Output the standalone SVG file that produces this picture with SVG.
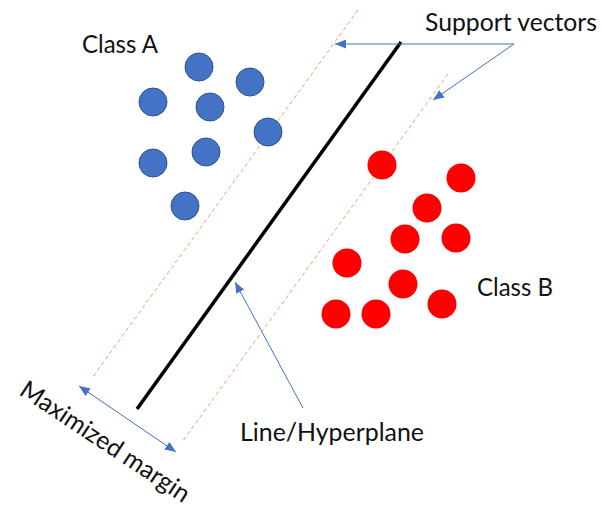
<svg xmlns="http://www.w3.org/2000/svg" width="603" height="508" viewBox="0 0 603 508">
  <style>
    .label { font-family: Lato, "Open Sans", "Liberation Sans", sans-serif; font-size: 25px; fill: #111; }
    .classA { fill: #4472C4; stroke: #2F528F; stroke-width: 1; }
    .classB { fill: #FF0000; }
    .margin { stroke: #F0A070; stroke-width: 1; stroke-dasharray: 4 3; fill: none; }
    .pointer { stroke: #4472C4; stroke-width: 1; fill: none; }
  </style>
  <defs>
    <marker id="tri" markerUnits="userSpaceOnUse" markerWidth="11" markerHeight="9" refX="11" refY="4.5" orient="auto-start-reverse">
      <path d="M0,0 L11,4.5 L0,9 z" fill="#4472C4"/>
    </marker>
  </defs>

  <rect width="603" height="508" fill="#fff"/>

  <!-- margin boundaries and separating hyperplane -->
  <g id="boundaries">
    <line class="margin" x1="358" y1="10" x2="92" y2="378"/>
    <line class="margin" x1="448" y1="74" x2="182" y2="442"/>
    <line x1="401" y1="42" x2="137" y2="409" stroke="#000" stroke-width="3.5"/>
  </g>

  <!-- class A samples -->
  <g id="class-a-points">
    <circle class="classA" cx="199" cy="67" r="14"/>
    <circle class="classA" cx="250" cy="82" r="14"/>
    <circle class="classA" cx="153" cy="102" r="14"/>
    <circle class="classA" cx="210" cy="107" r="14"/>
    <circle class="classA" cx="268" cy="132" r="14"/>
    <circle class="classA" cx="153" cy="163" r="14"/>
    <circle class="classA" cx="206" cy="152" r="14"/>
    <circle class="classA" cx="185" cy="206" r="14"/>
  </g>

  <!-- class B samples -->
  <g id="class-b-points">
    <circle class="classB" cx="382" cy="165" r="14.5"/>
    <circle class="classB" cx="461" cy="178" r="14.5"/>
    <circle class="classB" cx="427" cy="208" r="14.5"/>
    <circle class="classB" cx="405" cy="239" r="14.5"/>
    <circle class="classB" cx="456" cy="238" r="14.5"/>
    <circle class="classB" cx="347" cy="263" r="14.5"/>
    <circle class="classB" cx="403" cy="284" r="14.5"/>
    <circle class="classB" cx="442" cy="304" r="14.5"/>
    <circle class="classB" cx="336" cy="314" r="14.5"/>
    <circle class="classB" cx="376" cy="314" r="14.5"/>
  </g>

  <!-- callout pointers -->
  <g id="connectors">
    <line class="pointer" x1="514" y1="44" x2="335" y2="44" marker-end="url(#tri)"/>
    <line class="pointer" x1="514" y1="44" x2="433" y2="100" marker-end="url(#tri)"/>
    <line class="pointer" x1="303" y1="408" x2="235" y2="282" marker-end="url(#tri)"/>
    <line class="pointer" x1="79" y1="386" x2="176" y2="452" marker-start="url(#tri)" marker-end="url(#tri)"/>
  </g>

  <g id="label-class-a"><text class="label" x="82" y="53" textLength="76" lengthAdjust="spacingAndGlyphs">Class A</text></g>
  <g id="label-class-b"><text class="label" x="477" y="296" textLength="76" lengthAdjust="spacingAndGlyphs">Class B</text></g>
  <g id="label-support-vectors"><text class="label" x="425" y="31" textLength="172" lengthAdjust="spacingAndGlyphs">Support vectors</text></g>
  <g id="label-hyperplane"><text class="label" x="240" y="441" textLength="184" lengthAdjust="spacingAndGlyphs">Line/Hyperplane</text></g>
  <g id="label-margin"><text class="label" transform="translate(18,394) rotate(33.5)" x="0" y="0" textLength="198" lengthAdjust="spacingAndGlyphs">Maximized margin</text></g>
</svg>
